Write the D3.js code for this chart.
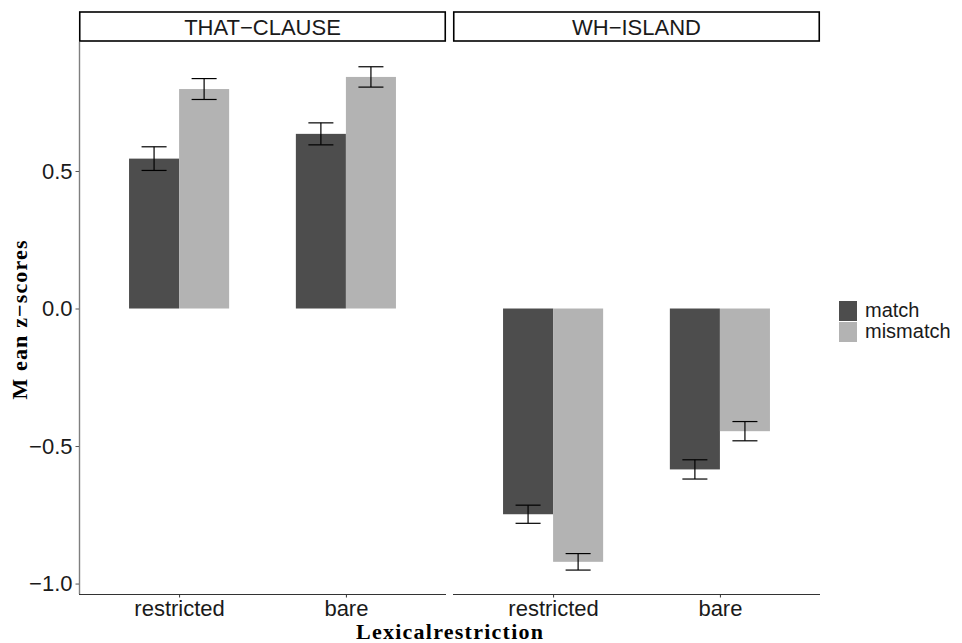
<!DOCTYPE html>
<html>
<head>
<meta charset="utf-8">
<script src="https://cdn.jsdelivr.net/npm/d3@7"></script>
<style>
  body { margin: 0; background: #fff; }
</style>
</head>
<body>
<script>
// data
var panels = ["THAT-CLAUSE", "WH-ISLAND"];
var restrictions = ["restricted", "bare"];
var conditions = ["match", "mismatch"];
var colors = ["#4d4d4d", "#b3b3b3"];
// mean z-scores, per panel, per restriction: [match, mismatch]
var means = [
  [[0.545, 0.798], [0.635, 0.842]],
  [[-0.748, -0.921], [-0.585, -0.446]]
];
// standard errors
var errs = [
  [[0.043, 0.038], [0.040, 0.037]],
  [[0.033, 0.030], [0.035, 0.035]]
];
var yTicks = [-1.0, -0.5, 0.0, 0.5];

var svg_width = 962, svg_height = 643;
var sans = "Liberation Sans, Arial, sans-serif";
var serif = "Liberation Serif, serif";

// panel geometry
var panel_top = 42, panel_bottom = 594;
var panel_x = [79, 453];
var panel_w = 367;
var strip_top = 12;

var svg = d3.select("body").append("svg")
  .attr("width", svg_width)
  .attr("height", svg_height);

var y = d3.scaleLinear()
  .domain([-1.038, 0.969])
  .range([panel_bottom, panel_top]);

// discrete x like ggplot: expand 0.6 on each side
var x = d3.scaleLinear().domain([0.4, 2.6]).range([0, panel_w]);
var barW = 0.3;

panels.forEach(function(p, pi) {
  var g = svg.append("g").attr("transform", "translate(" + panel_x[pi] + ",0)");

  // strip
  g.append("rect")
    .attr("x", 0.75).attr("y", strip_top)
    .attr("width", panel_w - 1.5).attr("height", panel_top - strip_top - 1)
    .attr("fill", "#fff").attr("stroke", "#000").attr("stroke-width", 1.6);
  g.append("text")
    .attr("x", panel_w / 2).attr("y", (strip_top + panel_top) / 2 + 7.5)
    .attr("text-anchor", "middle")
    .attr("font-family", sans)
    .attr("font-size", 22)
    .attr("fill", "#1a1a1a")
    .text(p.replace("-", "\u2212"));

  // bars
  restrictions.forEach(function(r, ri) {
    conditions.forEach(function(c, ci) {
      var v = means[pi][ri][ci];
      var xc = ri + 1 + (ci === 0 ? -barW / 2 : barW / 2);
      g.append("rect")
        .attr("x", x(xc - barW / 2))
        .attr("width", x(xc + barW / 2) - x(xc - barW / 2))
        .attr("y", y(Math.max(0, v)))
        .attr("height", Math.abs(y(v) - y(0)))
        .attr("fill", colors[ci]);

      var e = errs[pi][ri][ci];
      var cw = 0.075;
      var eb = g.append("g").attr("stroke", "#000").attr("stroke-width", 1.2);
      eb.append("line")
        .attr("x1", x(xc)).attr("x2", x(xc))
        .attr("y1", y(v + e)).attr("y2", y(v - e));
      eb.append("line")
        .attr("x1", x(xc - cw)).attr("x2", x(xc + cw))
        .attr("y1", y(v + e)).attr("y2", y(v + e));
      eb.append("line")
        .attr("x1", x(xc - cw)).attr("x2", x(xc + cw))
        .attr("y1", y(v - e)).attr("y2", y(v - e));
    });
  });

  // x axis
  var xa = d3.scaleOrdinal().domain(restrictions).range([x(1), x(2)]);
  var xAxis = g.append("g")
    .attr("transform", "translate(0," + panel_bottom + ")")
    .call(d3.axisBottom(xa).tickSize(3.5).tickPadding(3));
  xAxis.select(".domain").attr("d", "M0,0.5H" + panel_w).attr("stroke", "#333").attr("stroke-width", 1.1);
  xAxis.selectAll(".tick line").attr("stroke", "#333");
  xAxis.selectAll(".tick text")
    .attr("font-family", sans)
    .attr("font-size", 22).attr("fill", "#1a1a1a");

  if (pi === 0) {
    var yAxis = g.append("g")
      .call(d3.axisLeft(y).tickValues(yTicks).tickSize(3.5).tickPadding(3)
        .tickFormat(function(d) { return d3.format(".1f")(d).replace("-", "\u2212"); }));
    yAxis.select(".domain").attr("d", "M0.5," + panel_top + "V" + panel_bottom)
      .attr("stroke", "#7f7f7f").attr("stroke-width", 1.4);
    yAxis.selectAll(".tick line").attr("stroke", "#555");
    yAxis.selectAll(".tick text")
      .attr("font-family", sans)
      .attr("font-size", 22).attr("fill", "#1a1a1a");
  }
});

// axis titles
svg.append("text")
  .attr("x", 449.5).attr("y", 639)
  .attr("text-anchor", "middle")
  .attr("font-family", serif)
  .attr("font-weight", "bold")
  .attr("font-size", 22)
  .attr("textLength", 187).attr("lengthAdjust", "spacing")
  .text("Lexicalrestriction");

svg.append("text")
  .attr("transform", "translate(27,320) rotate(-90)")
  .attr("text-anchor", "middle")
  .attr("font-family", serif)
  .attr("font-weight", "bold")
  .attr("font-size", 22)
  .attr("textLength", 159).attr("lengthAdjust", "spacing")
  .text("M ean z\u2212scores");

// legend
var legend = svg.append("g").attr("transform", "translate(839,301)");
conditions.forEach(function(c, i) {
  legend.append("rect")
    .attr("x", 0).attr("y", i * 21)
    .attr("width", 18).attr("height", 20)
    .attr("fill", colors[i]);
  legend.append("text")
    .attr("x", 26).attr("y", i * 21 + 16)
    .attr("font-family", sans)
    .attr("font-size", 20).attr("fill", "#1a1a1a")
    .text(c);
});
</script>
</body>
</html>
